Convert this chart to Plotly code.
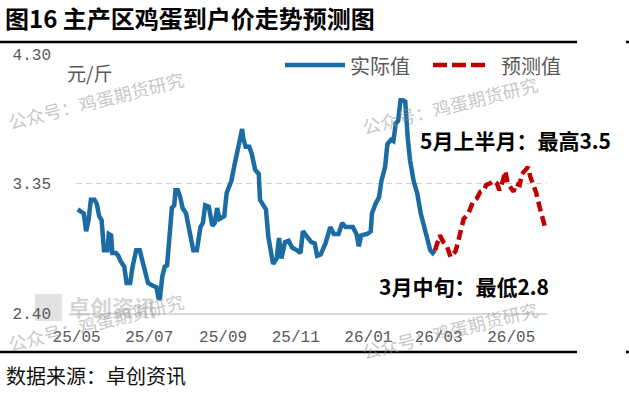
import plotly.graph_objects as go

# ---------------- data ----------------
actual_dates = [
    "2025-05-02", "2025-05-05", "2025-05-07", "2025-05-09", "2025-05-11", "2025-05-13",
    "2025-05-16", "2025-05-18", "2025-05-20", "2025-05-22", "2025-05-24", "2025-05-27",
    "2025-05-28", "2025-05-30", "2025-05-31", "2025-06-03", "2025-06-05", "2025-06-07",
    "2025-06-10", "2025-06-12", "2025-06-15", "2025-06-17", "2025-06-20", "2025-06-23",
    "2025-06-25", "2025-06-27", "2025-06-30", "2025-07-04", "2025-07-07", "2025-07-09",
    "2025-07-10", "2025-07-12", "2025-07-14", "2025-07-16", "2025-07-19", "2025-07-20",
    "2025-07-22", "2025-07-23", "2025-07-25", "2025-07-27", "2025-07-29", "2025-08-01",
    "2025-08-02", "2025-08-05", "2025-08-07", "2025-08-10", "2025-08-12", "2025-08-13",
    "2025-08-15", "2025-08-17", "2025-08-20", "2025-08-23", "2025-08-25", "2025-08-27",
    "2025-08-29", "2025-09-02", "2025-09-04", "2025-09-06", "2025-09-08", "2025-09-10",
    "2025-09-13", "2025-09-16", "2025-09-17", "2025-09-18", "2025-09-20", "2025-09-23",
    "2025-09-25", "2025-09-28", "2025-10-01", "2025-10-02", "2025-10-05", "2025-10-07",
    "2025-10-09", "2025-10-11", "2025-10-13", "2025-10-16", "2025-10-18", "2025-10-20",
    "2025-10-23", "2025-10-26", "2025-10-29", "2025-11-02", "2025-11-05", "2025-11-07",
    "2025-11-11", "2025-11-14", "2025-11-17", "2025-11-19", "2025-11-22", "2025-11-26",
    "2025-11-30", "2025-12-03", "2025-12-07", "2025-12-10", "2025-12-13", "2025-12-17",
    "2025-12-19", "2025-12-22", "2025-12-24", "2025-12-26", "2025-12-31", "2026-01-03",
    "2026-01-04", "2026-01-07", "2026-01-10", "2026-01-12", "2026-01-14", "2026-01-15",
    "2026-01-17", "2026-01-20", "2026-01-22", "2026-01-24", "2026-01-26", "2026-01-28",
    "2026-01-30", "2026-02-01", "2026-02-03", "2026-02-05", "2026-02-08", "2026-02-11",
    "2026-02-14", "2026-02-16", "2026-02-19", "2026-02-22", "2026-02-24", "2026-02-26",
]
actual_values = [
    3.16, 3.14, 3.13, 3.00, 3.08, 3.23,
    3.23, 3.20, 3.11, 3.08, 2.86, 2.86,
    2.98, 2.97, 2.84, 2.84, 2.82, 2.78,
    2.74, 2.62, 2.62, 2.74, 2.86, 2.86,
    2.79, 2.74, 2.62, 2.60, 2.59, 2.50,
    2.51, 2.67, 2.74, 2.75, 3.01, 3.17,
    3.19, 3.30, 3.30, 3.25, 3.17, 3.13,
    3.08, 2.96, 2.86, 2.86, 3.01, 3.03,
    3.06, 3.19, 3.18, 3.04, 3.06, 3.17,
    3.09, 3.11, 3.28, 3.33, 3.37, 3.46,
    3.59, 3.72, 3.75, 3.68, 3.62, 3.62,
    3.57, 3.45, 3.42, 3.23, 3.19, 3.16,
    2.96, 2.84, 2.76, 2.80, 2.95, 2.80,
    2.92, 2.93, 2.88, 2.86, 2.84, 3.00,
    2.96, 2.92, 2.91, 2.82, 2.83, 2.91,
    3.03, 2.98, 2.98, 3.06, 3.03, 3.03,
    3.03, 2.98, 2.89, 2.97, 2.98, 3.00,
    3.13, 3.20, 3.25, 3.37, 3.45, 3.47,
    3.64, 3.67, 3.66, 3.79, 3.81, 3.96,
    3.96, 3.95, 3.69, 3.52, 3.37, 3.28,
    3.13, 3.06, 2.98, 2.86, 2.84, 2.86,
]

forecast_dates = [
    "2026-02-26", "2026-03-02", "2026-03-05", "2026-03-08", "2026-03-11", "2026-03-15",
    "2026-03-17", "2026-03-20", "2026-03-22", "2026-03-26", "2026-03-30", "2026-04-02",
    "2026-04-05", "2026-04-08", "2026-04-10", "2026-04-13", "2026-04-16", "2026-04-19",
    "2026-04-21", "2026-04-24", "2026-04-26", "2026-04-28", "2026-04-30", "2026-05-03",
    "2026-05-05", "2026-05-08", "2026-05-10", "2026-05-12", "2026-05-15", "2026-05-17",
    "2026-05-19", "2026-05-22", "2026-05-25", "2026-05-29",
]
forecast_values = [
    2.86, 2.97, 2.92, 2.89, 2.81, 2.85,
    2.91, 3.02, 3.09, 3.13, 3.22, 3.24,
    3.29, 3.30, 3.34, 3.35, 3.37, 3.35,
    3.30, 3.37, 3.44, 3.35, 3.33, 3.29,
    3.35, 3.34, 3.42, 3.44, 3.47, 3.40,
    3.35, 3.28, 3.17, 3.04,
]

y_tickvals = [2.40, 3.35, 4.30]
y_ticktext = ["2.40", "3.35", "4.30"]

title_text = "图16 主产区鸡蛋到户价走势预测图"
unit_text = "元/斤"
series_names = ["实际值", "预测值"]
note_high = "5月上半月：最高3.5"
note_low = "3月中旬：最低2.8"
source_text = "数据来源：卓创资讯"
watermark_text = "公众号：鸡蛋期货研究"

# ---------------- styling / layout ----------------
W, H = 629, 393
L, R, T, B = 76, 547, 54, 313  # plot area in pixels
BLUE = "#1a6ca3"
RED = "#c00000"
GRAY = "#595959"
CJK = "Noto Sans CJK SC"


def px(x):
    return (x - L) / (R - L)


def py(y):
    return (B - y) / (B - T)


fig = go.Figure()
fig.add_trace(go.Scatter(x=actual_dates, y=actual_values, mode="lines", name=series_names[0],
                         line=dict(color=BLUE, width=4.5), showlegend=False))
fig.add_trace(go.Scatter(x=forecast_dates, y=forecast_values, mode="lines", name=series_names[1],
                         line=dict(color=RED, width=4.5, dash="10px,5px"), showlegend=False))

shapes = [
    # rules under title and above source
    dict(type="line", xref="paper", yref="paper", x0=px(0), x1=px(577), y0=py(42), y1=py(42),
         line=dict(color="black", width=2.5)),
    dict(type="line", xref="paper", yref="paper", x0=px(0), x1=px(577), y0=py(352), y1=py(352),
         line=dict(color="black", width=2.5)),
    dict(type="line", xref="paper", yref="paper", x0=px(626), x1=px(629), y0=py(42), y1=py(42),
         line=dict(color="black", width=2.5)),
    dict(type="line", xref="paper", yref="paper", x0=px(626), x1=px(629), y0=py(352), y1=py(352),
         line=dict(color="black", width=2.5)),
    # legend samples
    dict(type="line", xref="paper", yref="paper", x0=px(285), x1=px(345), y0=py(65), y1=py(65),
         line=dict(color=BLUE, width=4.5)),
    dict(type="line", xref="paper", yref="paper", x0=px(433), x1=px(487), y0=py(65), y1=py(65),
         line=dict(color=RED, width=4.5, dash="14px,5px")),
    # faint logo block of the source watermark
    dict(type="rect", xref="paper", yref="paper", x0=px(35), x1=px(62), y0=py(321), y1=py(294),
         fillcolor="rgba(190,190,190,0.45)", line=dict(width=0), layer="below"),
]

annotations = [
    dict(text=unit_text, x=px(65), y=py(73), xanchor="left", yanchor="middle",
         font=dict(family=CJK, size=19, color=GRAY)),
    dict(text=series_names[0], x=px(348), y=py(65), xanchor="left", yanchor="middle",
         font=dict(family=CJK, size=20, color=GRAY)),
    dict(text=series_names[1], x=px(499), y=py(65), xanchor="left", yanchor="middle",
         font=dict(family=CJK, size=20, color=GRAY)),
    dict(text=note_high, x=px(515), y=py(140), xanchor="center", yanchor="middle",
         font=dict(family=CJK, size=21, color="black", weight="bold")),
    dict(text=note_low, x=px(464), y=py(286), xanchor="center", yanchor="middle",
         font=dict(family=CJK, size=21, color="black", weight="bold")),
    dict(text=source_text, x=px(4), y=py(375), xanchor="left", yanchor="middle",
         font=dict(family=CJK, size=20, color="#111111")),
    dict(text="卓创资讯", x=px(112), y=py(306), xanchor="center", yanchor="middle",
         font=dict(family=CJK, size=22, color="rgba(185,185,185,0.6)", weight="bold")),
]
for cx, cy in [(96, 100), (450, 105), (96, 322), (450, 330)]:
    annotations.append(dict(text=watermark_text, x=px(cx), y=py(cy), xanchor="center",
                            yanchor="middle", textangle=-14,
                            font=dict(family=CJK, size=18, color="rgba(150,150,150,0.55)")))

for a in annotations:
    a.update(xref="paper", yref="paper", showarrow=False)

fig.update_layout(
    width=W, height=H,
    margin=dict(l=L, r=W - R, t=T, b=H - B, pad=0, autoexpand=False),
    paper_bgcolor="white", plot_bgcolor="white",
    title=dict(text=title_text, x=5 / W, xanchor="left", xref="container",
               y=1 - 20 / H, yanchor="middle", yref="container",
               font=dict(family=CJK, size=24, color="black", weight="bold")),
    shapes=shapes, annotations=annotations,
    showlegend=False,
)
fig.update_xaxes(
    type="date", range=["2025-04-30 12:00", "2026-05-31"],
    tick0="2025-05-01", dtick="M2", tickformat="%y/%m",
    showgrid=False, zeroline=False, automargin=False,
    showline=True, linecolor="#d9d9d9", linewidth=1.5,
    ticks="", ticklabelstandoff=8,
    tickfont=dict(family="Liberation Mono", size=16, color=GRAY),
)
fig.update_yaxes(
    range=[2.40, 4.30], tickvals=y_tickvals, ticktext=y_ticktext,
    showgrid=True, gridcolor="#d0d0d0", gridwidth=1, griddash="6px,4px",
    zeroline=False, showline=False, automargin=False,
    ticks="", ticklabelstandoff=24,
    tickfont=dict(family="Liberation Mono", size=16, color=GRAY),
)

fig.write_html("out.html", config={"displayModeBar": False},
               post_script="document.body.style.margin='0';document.body.style.overflow='hidden';")
